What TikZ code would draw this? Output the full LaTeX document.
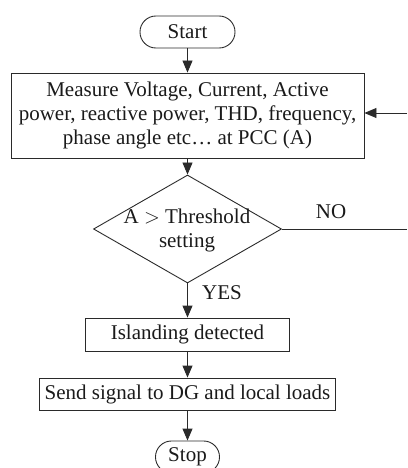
\documentclass[tikz,border=0pt]{standalone}
\usepackage{fontspec}
\setmainfont{Liberation Serif}
\usetikzlibrary{arrows.meta,shapes.geometric}
\definecolor{ink}{HTML}{1A1A1A}
\definecolor{edge}{HTML}{2A2A2A}
\tikzset{
  every node/.style={text=ink, font=\fontsize{21}{24}\selectfont},
  procbox/.style={draw=edge, line width=0.9pt, rectangle, inner sep=0pt, align=center},
  termbox/.style={draw=edge, line width=0.9pt, rectangle, rounded corners=15.9pt, inner sep=0pt},
  decbox/.style={draw=edge, line width=0.9pt, diamond, inner sep=0pt},
  flow/.style={draw=edge, line width=0.9pt, -{Triangle[length=12pt,width=10pt]}},
  plain/.style={draw=edge, line width=0.9pt},
}
\begin{document}
\begin{tikzpicture}[x=1pt, y=-1pt]
  \useasboundingbox (0,0) rectangle (407,468);

  % terminals, process boxes and the decision
  \node[termbox, minimum width=95pt, minimum height=32pt] (start) at (187.5,32) {Start};
  \node[procbox, minimum width=353pt, minimum height=85pt] (meas) at (187.5,115.5)
    {Measure Voltage, Current, Active\\power, reactive power, THD, frequency,\\phase angle etc\ldots\ at PCC (A)};
  \node[decbox, minimum width=188pt, minimum height=108pt] (dec) at (187.5,229) {};
  \node[align=center, inner sep=0pt] (dectext) at (187,230) {A $>$ Threshold\\setting};
  \node[procbox, minimum width=204pt, minimum height=33pt] (isl) at (187.5,334.5) {Islanding detected};
  \node[procbox, minimum width=296pt, minimum height=32pt] (send) at (187.5,394) {Send signal to DG and local loads};
  \node[termbox, minimum width=64pt, minimum height=32pt] (stop) at (187.5,457) {Stop};

  % branch labels
  \node[inner sep=0pt] (nolab) at (331,212) {NO};
  \node[inner sep=0pt] (yeslab) at (222,293) {YES};

  % loose ends of the feedback path at the right margin
  \coordinate (noend) at (407,229);
  \coordinate (backin) at (407,113);

  % connectors
  \draw[flow] (start) -- (meas);
  \draw[flow] (meas) -- (dec);
  \draw[flow] (dec) -- (isl);
  \draw[flow] (isl) -- (send);
  \draw[flow] (send) -- (stop);
  \draw[plain] (dec.east) -- (noend);
  \draw[flow] (backin) -- (backin -| meas.east);
\end{tikzpicture}
\end{document}
